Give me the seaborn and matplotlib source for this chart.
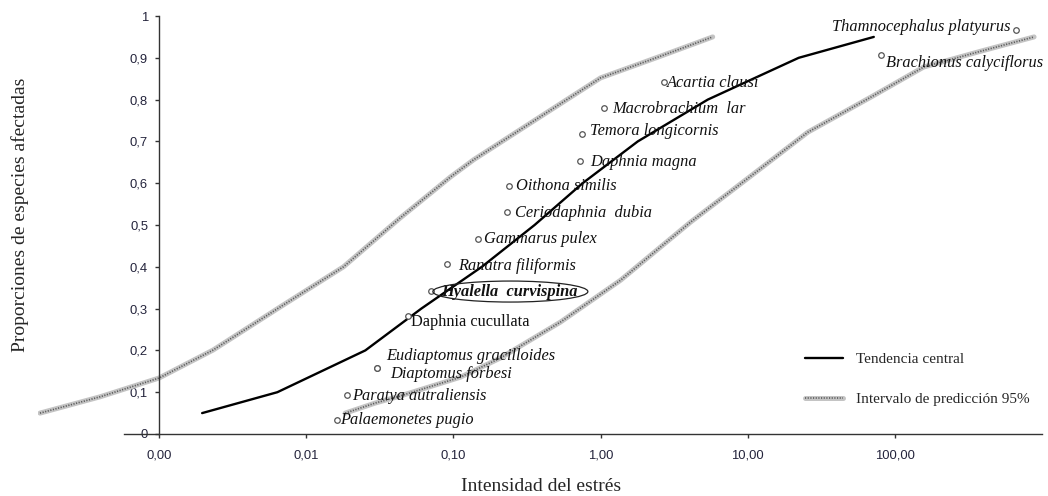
import numpy as np
import pandas as pd
import matplotlib
matplotlib.use("Agg")
import matplotlib.pyplot as plt
import seaborn as sns
from matplotlib.patches import Ellipse
from matplotlib.transforms import ScaledTranslation
from matplotlib.lines import Line2D
from matplotlib.ticker import FixedLocator, FixedFormatter, NullLocator

# ---------------- data ----------------
species = ["Thamnocephalus platyurus", "Brachionus calyciflorus", "Acartia clausi",
           "Macrobrachium  lar", "Temora longicornis", "Daphnia magna", "Oithona similis",
           "Ceriodaphnia  dubia", "Gammarus pulex", "Ranatra filiformis",
           "Hyalella  curvispina", "Daphnia cucullata", "Eudiaptomus gracilloides",
           "Diaptomus forbesi", "Paratya autraliensis", "Palaemonetes pugio"]
species_x = [665, 80.3, 2.68, 1.06, 0.743, 0.72, 0.240, 0.233, 0.148, 0.091,
             0.0708, 0.0494, 0.0304, 0.0304, 0.019, 0.0163]
species_y = [0.966, 0.907, 0.842, 0.780, 0.718, 0.653, 0.593, 0.531, 0.467, 0.407,
             0.342, 0.282, 0.158, 0.158, 0.093, 0.0335]

trend_x = [0.00196, 0.00636, 0.0252, 0.0605, 0.156, 0.356, 0.755, 1.79, 5.35, 22.2, 71.9]
trend_y = [0.05, 0.10, 0.20, 0.30, 0.40, 0.50, 0.60, 0.70, 0.80, 0.90, 0.95]

upper_x = [1.55e-4, 3.97e-4, 1.0e-3, 2.33e-3, 6.65e-3, 0.0179, 0.0435, 0.0955,
           0.137, 0.334, 1.0, 2.56, 5.78]
upper_y = [0.050, 0.089, 0.134, 0.201, 0.304, 0.400, 0.517, 0.615, 0.656, 0.744,
           0.852, 0.904, 0.950]

lower_x = [0.0184, 0.0294, 0.0435, 0.1117, 0.209, 0.535, 1.368, 4.09, 10.48, 25.6,
           68.7, 157, 385, 883]
lower_y = [0.050, 0.074, 0.091, 0.136, 0.182, 0.268, 0.368, 0.507, 0.617, 0.722,
           0.806, 0.878, 0.916, 0.950]

x_ticks = [0.001, 0.01, 0.1, 1, 10, 100]
x_tick_labels = ["0,00", "0,01", "0,10", "1,00", "10,00", "100,00"]
y_ticks = [0, 0.1, 0.2, 0.3, 0.4, 0.5, 0.6, 0.7, 0.8, 0.9, 1.0]
y_tick_labels = ["0", "0,1", "0,2", "0,3", "0,4", "0,5", "0,6", "0,7", "0,8", "0,9", "1"]

# label layout (pixel offsets from marker: dx right, dy down) and styles
label_offsets = [(-5, -3), (5, 8), (3, 1), (8, 1), (8, -3), (11, 1), (7, 0), (8, 1),
                 (6, 0), (11, 2), (10, 1), (3, 6), (9, -12), (13, 6), (5, 1), (3, 0)]
label_style = ["italic"] * 16
label_style[11] = "normal"
label_weight = ["normal"] * 16
label_weight[10] = "bold"

# ---------------- figure ----------------
sns.set_style("ticks")
plt.rcParams["font.family"] = ["Liberation Serif", "DejaVu Serif"]

fig = plt.figure(figsize=(10.48, 4.96), dpi=100)
ax = fig.add_axes([0.0367, 0.125, 0.9576, 0.8427])

GRAY_BASE = "#c4c4c4"
GRAY_DOT = "#5a5a5a"

df_up = pd.DataFrame({"x": upper_x, "y": upper_y})
df_lo = pd.DataFrame({"x": lower_x, "y": lower_y})
for d in (df_up, df_lo):
    sns.lineplot(data=d, x="x", y="y", ax=ax, color=GRAY_BASE, lw=3.6, sort=False,
                 estimator=None, zorder=2)
    sns.lineplot(data=d, x="x", y="y", ax=ax, color=GRAY_DOT, lw=1.2, sort=False,
                 estimator=None, dashes=False, zorder=2.1,
                 linestyle=(0, (0.7, 0.9)))

df_tr = pd.DataFrame({"x": trend_x, "y": trend_y})
sns.lineplot(data=df_tr, x="x", y="y", ax=ax, color="black", lw=1.7, sort=False,
             estimator=None, zorder=3)

df_sp = pd.DataFrame({"x": species_x, "y": species_y, "name": species})
sns.scatterplot(data=df_sp, x="x", y="y", ax=ax, marker="o", s=16,
                facecolor="white", edgecolor="#555555", linewidth=0.9, zorder=4)

for name, x, y, (dx, dy), st, wt in zip(species, species_x, species_y, label_offsets,
                                         label_style, label_weight):
    ax.annotate(name, (x, y), xytext=(dx * 0.72, -dy * 0.72), textcoords="offset points",
                ha="right" if dx < 0 else "left", va="center", fontsize=11.8,
                style=st, weight=wt, color="#111111", zorder=5)

# ellipse around Hyalella curvispina
hi = species.index("Hyalella  curvispina")
trans = fig.dpi_scale_trans + ScaledTranslation(species_x[hi], species_y[hi], ax.transData)
ax.add_patch(Ellipse((0.79, -0.005), 1.55, 0.21, transform=trans, fill=False,
                     edgecolor="#222222", lw=0.9, zorder=5))

ax.set_xscale("log")
ax.set_xlim(10 ** -3.82, 10 ** 3.0)
ax.set_ylim(0, 1)

for s in ("top", "right"):
    ax.spines[s].set_visible(False)
ax.spines["left"].set_position(("data", 0.001))
ax.spines["bottom"].set_bounds(10 ** -3.24, 10 ** 3.0)
ax.spines["left"].set_color("#333333")
ax.spines["bottom"].set_color("#333333")
ax.spines["left"].set_linewidth(1.0)
ax.spines["bottom"].set_linewidth(1.0)

ax.xaxis.set_major_locator(FixedLocator(x_ticks))
ax.xaxis.set_major_formatter(FixedFormatter(x_tick_labels))
ax.xaxis.set_minor_locator(NullLocator())
ax.yaxis.set_major_locator(FixedLocator(y_ticks))
ax.yaxis.set_major_formatter(FixedFormatter(y_tick_labels))

for lab in ax.get_xticklabels() + ax.get_yticklabels():
    lab.set_family(["Liberation Sans", "DejaVu Sans"])
    lab.set_fontsize(9.4)
    lab.set_color("#24243c")
ax.tick_params(axis="x", direction="out", length=3, width=1, pad=8, color="#333333")
ax.tick_params(axis="y", direction="out", length=3, width=1, pad=5, color="#333333")

ax.set_xlabel("Intensidad del estrés", fontsize=14)
ax.set_ylabel("Proporciones de especies afectadas", fontsize=14)
ax.xaxis.set_label_coords(0.5007, -0.105)
ax.yaxis.set_label_coords(-0.0095, 0.524)

# legend
h_tr = Line2D([], [], color="black", lw=1.7)
h_pi = (Line2D([], [], color=GRAY_BASE, lw=3.6),
        Line2D([], [], color=GRAY_DOT, lw=1.2, linestyle=(0, (0.7, 0.9))))
fig.legend([h_tr, h_pi], ["Tendencia central", "Intervalo de predicción 95%"],
           loc="upper left", bbox_to_anchor=(0.768, 0.289), frameon=False,
           fontsize=11, handlelength=2.5, handletextpad=0.85, labelspacing=1.7,
           borderpad=0, borderaxespad=0)

fig.savefig("out.png", dpi=100)
